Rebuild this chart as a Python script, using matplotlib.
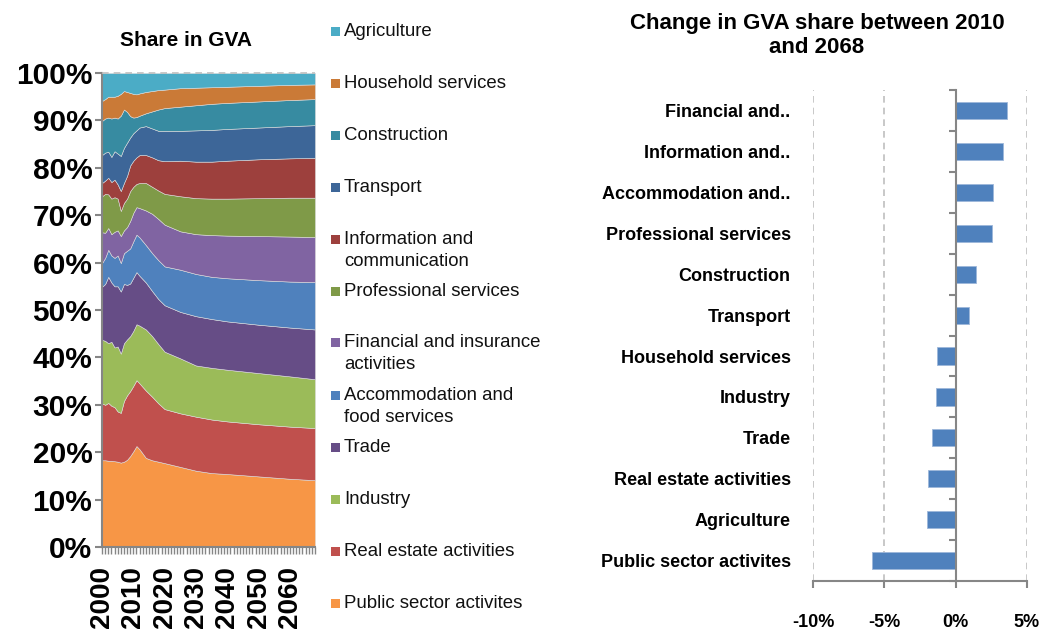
import numpy as np
import matplotlib.pyplot as plt
from matplotlib.patches import Rectangle
from matplotlib.ticker import MultipleLocator, FuncFormatter

plt.rcParams['font.family'] = ['Liberation Sans', 'DejaVu Sans']

# Sector shares of GVA (%), bottom layer first
years = [2000, 2001, 2002, 2003, 2004, 2005, 2006, 2007, 2008, 2009, 2010, 2011,
         2012, 2014, 2016, 2018, 2020, 2025, 2030, 2035, 2040, 2050, 2060, 2068]
public = [18.3, 18.3, 18.2, 18.2, 18.1, 18.0, 17.8, 18.0, 18.4, 19.2, 20.2, 21.3,
          20.6, 18.8, 18.3, 18.0, 17.7, 16.9, 16.1, 15.6, 15.4, 14.9, 14.4, 14.1]
real_estate = [12.0, 11.7, 12.2, 11.6, 11.4, 10.6, 10.5, 12.8, 13.6, 13.7, 13.8, 13.9,
               13.9, 14.2, 13.4, 12.3, 11.4, 11.3, 11.4, 11.3, 11.1, 11.0, 11.0, 11.0]
industry = [13.4, 13.5, 12.6, 13.5, 12.6, 13.7, 12.5, 12.2, 11.8, 11.6, 11.6, 11.8,
            12.2, 12.9, 12.8, 12.5, 12.1, 11.6, 10.8, 10.9, 10.9, 10.8, 10.6, 10.3]
trade = [11.2, 12.0, 14.0, 12.5, 12.9, 12.7, 13.1, 12.5, 11.5, 11.1, 11.2, 11.0,
         10.5, 9.9, 9.5, 9.5, 9.8, 9.8, 10.4, 10.3, 10.2, 10.2, 10.3, 10.5]
accommodation = [5.0, 5.5, 5.7, 5.7, 6.0, 6.5, 6.0, 6.5, 7.2, 7.4, 7.7, 7.9,
                 8.1, 7.9, 8.0, 8.2, 8.2, 8.9, 8.9, 8.9, 9.1, 9.4, 9.7, 10.0]
financial = [6.5, 5.3, 4.6, 4.5, 5.5, 5.3, 5.7, 4.8, 5.0, 5.8, 6.0, 5.8,
             6.2, 7.3, 8.3, 8.7, 8.8, 8.1, 8.4, 8.8, 9.0, 9.3, 9.5, 9.5]
professional = [7.6, 8.2, 7.1, 7.5, 7.3, 6.7, 5.3, 5.8, 6.0, 6.3, 5.5, 4.9,
                5.3, 5.8, 5.7, 6.0, 6.5, 7.4, 7.6, 7.7, 7.8, 8.0, 8.2, 8.3]
information = [2.8, 2.8, 3.5, 3.5, 3.7, 3.0, 4.2, 4.2, 4.8, 5.4, 5.5, 5.6,
               5.9, 5.9, 6.2, 6.4, 6.9, 7.5, 7.7, 7.8, 8.0, 8.2, 8.3, 8.4]
transport = [5.9, 5.9, 5.5, 5.3, 6.0, 6.5, 7.4, 7.4, 7.0, 5.9, 5.8, 5.7,
             5.8, 6.1, 6.1, 6.2, 6.4, 6.3, 6.6, 6.7, 6.7, 6.7, 6.8, 6.9]
construction = [7.2, 7.2, 7.2, 8.1, 7.1, 7.4, 8.5, 8.1, 6.5, 4.5, 3.3, 2.8,
                2.5, 2.7, 3.6, 4.5, 4.8, 5.1, 5.3, 5.5, 5.5, 5.5, 5.5, 5.5]
household = [4.2, 4.1, 4.4, 4.6, 4.4, 4.8, 4.6, 3.9, 4.2, 4.9, 5.0, 4.8,
             4.7, 4.5, 4.3, 4.1, 3.9, 3.9, 3.7, 3.5, 3.4, 3.3, 3.2, 3.1]
agriculture = [5.9, 5.5, 5.0, 5.0, 5.0, 4.8, 4.4, 3.8, 4.0, 4.2, 4.4, 4.5,
               4.3, 4.0, 3.8, 3.6, 3.5, 3.2, 3.1, 3.0, 2.9, 2.7, 2.5, 2.4]

sector_names = ['Public sector activites', 'Real estate activities', 'Industry', 'Trade',
                'Accommodation and\nfood services', 'Financial and insurance\nactivities',
                'Professional services', 'Information and\ncommunication', 'Transport',
                'Construction', 'Household services', 'Agriculture']
sector_colors = ['#F79646', '#C0504D', '#9BBB59', '#664D86', '#4F81BD', '#8064A2',
                 '#7F9A48', '#9D403D', '#3D6698', '#378BA1', '#CA7A37', '#4BACC6']

# Change in share 2010-2068 (percentage points), top bar first
change_labels = ['Financial and..', 'Information and..', 'Accommodation and..',
                 'Professional services', 'Construction', 'Transport',
                 'Household services', 'Industry', 'Trade', 'Real estate activities',
                 'Agriculture', 'Public sector activites']
change_values = [3.6, 3.35, 2.6, 2.57, 1.4, 0.92, -1.33, -1.38, -1.66, -1.96, -2.03, -5.87]

gray = '#868686'
pct = FuncFormatter(lambda v, p: f'{v:.0f}%')

fig = plt.figure(figsize=(10.4, 6.3), dpi=100)

# ---- left: stacked 100% area chart
ax = fig.add_axes([0.0981, 0.1317, 0.2048, 0.7524])
stack = np.array([public, real_estate, industry, trade, accommodation, financial,
                  professional, information, transport, construction, household,
                  agriculture])
stack = stack / stack.sum(axis=0) * 100
ax.stackplot(years, stack, colors=sector_colors, linewidth=0.4, edgecolor='#dcdcdc')
ax.axhline(100, color='#BFBFBF', ls=(0, (4, 3)), lw=1.2, zorder=3, clip_on=False)
ax.set_xlim(2000, 2068)
ax.set_ylim(0, 100)
ax.yaxis.set_major_locator(MultipleLocator(10))
ax.yaxis.set_major_formatter(pct)
ax.xaxis.set_major_locator(MultipleLocator(10))
ax.xaxis.set_minor_locator(MultipleLocator(1))
ax.tick_params(axis='x', which='both', length=5, width=1, color=gray, direction='out')
ax.tick_params(axis='x', which='major', labelsize=20, labelrotation=90, pad=9)
ax.tick_params(axis='y', length=5, width=1.5, color=gray, labelsize=21.5, pad=2)
for lbl in ax.get_xticklabels() + ax.get_yticklabels():
    lbl.set_fontweight('bold')
for s in ['top', 'right']:
    ax.spines[s].set_visible(False)
for s in ['left', 'bottom']:
    ax.spines[s].set_color(gray)
    ax.spines[s].set_linewidth(1.5)

fig.text(186 / 1040, 1 - 40 / 630, 'Share in GVA', ha='center', va='center',
         fontsize=15, fontweight='bold')

# legend, top entry = top layer
for i, (name, col) in enumerate(zip(sector_names[::-1], sector_colors[::-1])):
    y = 1 - (31 + 52 * i) / 630
    fig.patches.append(Rectangle((331 / 1040, y - 4.5 / 630), 9 / 1040, 9 / 630,
                                 transform=fig.transFigure, facecolor=col,
                                 edgecolor='none'))
    for j, line in enumerate(name.split('\n')):
        fig.text(344 / 1040, y - j * 22 / 630, line, ha='left', va='center',
                 fontsize=13.4, color='#111111')

# ---- right: horizontal bars of share change
bx_rect = [0.7817, 0.0778, 0.2058, 0.779]
bx = fig.add_axes(bx_rect)
pos = np.arange(len(change_values))[::-1]
bx.barh(pos, change_values, height=0.42, color='#4F81BD', edgecolor='#9DB7DA',
        linewidth=0.6, zorder=3)
bx.set_ylim(-0.5, len(change_values) - 0.5)
bx.set_xlim(-10, 5)
bx.set_yticks(pos)
bx.set_yticklabels(change_labels, fontweight='bold', fontsize=13)
bx.tick_params(axis='y', length=0, pad=16)
bx.xaxis.set_major_locator(MultipleLocator(5))
bx.xaxis.set_major_formatter(pct)
bx.tick_params(axis='x', length=5, width=1.5, color=gray, labelsize=13, pad=19)
for lbl in bx.get_xticklabels():
    lbl.set_fontweight('bold')
bx.grid(axis='x', ls=(0, (4, 3)), color='#BFBFBF', lw=1.2)
bx.set_axisbelow(True)
for s in ['top', 'right', 'left']:
    bx.spines[s].set_visible(False)
bx.spines['bottom'].set_color(gray)
bx.spines['bottom'].set_linewidth(1.5)

# category axis crossing at 0%: an overlay axes whose left edge sits at x = 0
x0 = bx_rect[0] + bx_rect[2] * (0 - (-10)) / (5 - (-10))
zx = fig.add_axes([x0, bx_rect[1], 0.05, bx_rect[3]])
zx.patch.set_visible(False)
zx.set_ylim(bx.get_ylim())
zx.set_yticks(np.arange(-0.5, len(change_values), 1))
zx.set_yticklabels([])
zx.set_xticks([])
zx.tick_params(axis='y', length=5, width=1.5, color=gray, direction='out')
for s in ['top', 'right', 'bottom']:
    zx.spines[s].set_visible(False)
zx.spines['left'].set_color(gray)
zx.spines['left'].set_linewidth(1.5)

fig.text(817 / 1040, 1 - 13 / 630, 'Change in GVA share between 2010\nand 2068',
         ha='center', va='top', fontsize=16, fontweight='bold', linespacing=1.2)

fig.savefig('out.png', dpi=100)
